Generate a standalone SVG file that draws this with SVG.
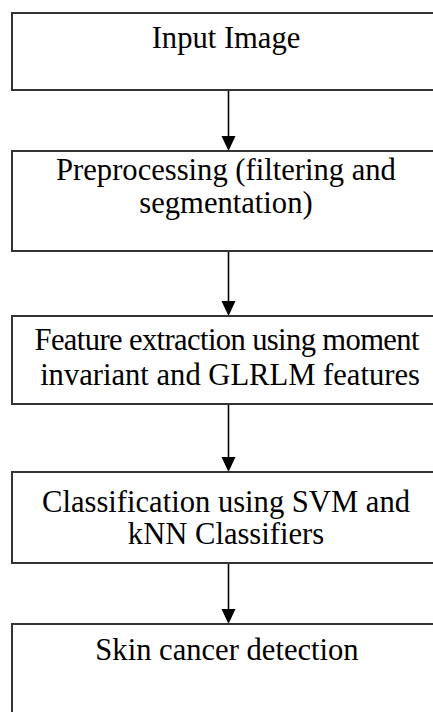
<svg xmlns="http://www.w3.org/2000/svg" width="433" height="712" viewBox="0 0 433 712">
<style>
.box{fill:#fff;stroke:#333;stroke-width:2}
.t{font-family:"Liberation Serif","Times New Roman",serif;font-size:30.6px;fill:#000;text-anchor:middle}
.c{stroke:#000;stroke-width:1.6;fill:none}
.ah{fill:#000}
</style>
<rect width="433" height="712" fill="#fff"/>
<g id="connectors">
<line class="c" x1="228.5" y1="90" x2="228.5" y2="140"/>
<path class="ah" d="M221.5,136 L235.5,136 L228.5,151 Z"/>
<line class="c" x1="228.5" y1="251" x2="228.5" y2="305"/>
<path class="ah" d="M221.5,301 L235.5,301 L228.5,316 Z"/>
<line class="c" x1="228.5" y1="404" x2="228.5" y2="461"/>
<path class="ah" d="M221.5,457 L235.5,457 L228.5,472 Z"/>
<line class="c" x1="228.5" y1="563" x2="228.5" y2="613"/>
<path class="ah" d="M221.5,609 L235.5,609 L228.5,624 Z"/>
</g>
<g id="n1">
<rect class="box" x="12" y="13" width="440" height="77"/>
<text class="t" x="226" y="48">Input Image</text>
</g>
<g id="n2">
<rect class="box" x="12" y="151" width="440" height="100"/>
<text class="t" x="226" y="180">Preprocessing (filtering and</text>
<text class="t" x="226" y="213">segmentation)</text>
</g>
<g id="n3">
<rect class="box" x="12" y="316" width="440" height="88"/>
<text class="t" x="227" y="350" textLength="385" lengthAdjust="spacing">Feature extraction using moment</text>
<text class="t" x="230" y="385">invariant and GLRLM features</text>
</g>
<g id="n4">
<rect class="box" x="12" y="472" width="440" height="91"/>
<text class="t" x="226" y="512">Classification using SVM and</text>
<text class="t" x="226" y="544">kNN Classifiers</text>
</g>
<g id="n5">
<rect class="box" x="12" y="624" width="440" height="120"/>
<text class="t" x="227" y="660">Skin cancer detection</text>
</g>
</svg>
